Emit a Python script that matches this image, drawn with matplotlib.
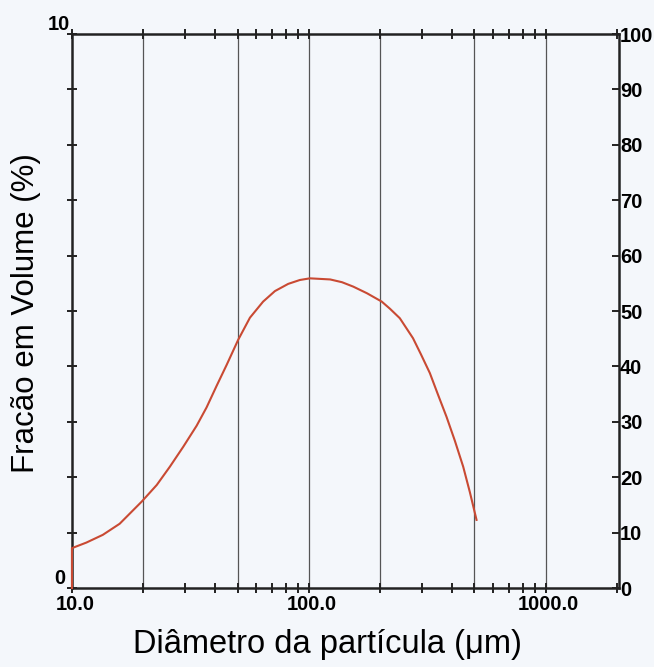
import matplotlib
matplotlib.use("Agg")
import matplotlib.pyplot as plt
from matplotlib.ticker import LogLocator, NullFormatter, FixedLocator
from matplotlib.transforms import ScaledTranslation

# Particle size distribution (volume fraction, %)
diameter_um = [10, 10, 11.5, 13.5, 15.9, 19.7, 22.8, 25.9, 29.5, 33.6, 37.0,
               40.8, 45.0, 50.3, 56.4, 64.1, 71.9, 81.8, 91.6, 101, 123, 138,
               154, 176, 203, 220, 242, 275, 297, 324, 350, 381, 413, 448,
               478, 510]
volume_pct = [0, 0.72, 0.82, 0.96, 1.16, 1.56, 1.86, 2.19, 2.55, 2.93, 3.26,
              3.65, 4.03, 4.48, 4.88, 5.17, 5.36, 5.49, 5.56, 5.59, 5.57, 5.52,
              5.44, 5.32, 5.17, 5.04, 4.87, 4.51, 4.22, 3.88, 3.50, 3.09, 2.66,
              2.19, 1.73, 1.23]

grid_x = [20, 50, 100, 200, 500, 1000]
x_tick_vals = [10, 100, 1000]
x_tick_labels = ["10.0", "100.0", "1000.0"]
right_ticks = list(range(0, 101, 10))

bg = "#f4f7fb"
font = "Liberation Sans"
tick_size = 14.5

fig = plt.figure(figsize=(6.54, 6.67), dpi=100, facecolor=bg)
ax = fig.add_axes([0.110, 0.1184, 0.836, 0.8306])
ax.set_facecolor(bg)

ax.set_xscale("log")
ax.set_xlim(10, 2030)
ax.set_ylim(0, 10)

for gx in grid_x:
    ax.axvline(gx, color="#555555", lw=0.9, zorder=1)

ax.plot(diameter_um, volume_pct, color="#c94a33", lw=1.5, zorder=3,
        clip_on=False)

for s in ax.spines.values():
    s.set_linewidth(1.8)
    s.set_color("#222222")

# x axis: minor ticks crossing both top and bottom spines
ax.xaxis.set_major_locator(FixedLocator(x_tick_vals))
ax.xaxis.set_minor_locator(LogLocator(base=10, subs=range(2, 10)))
ax.xaxis.set_minor_formatter(NullFormatter())
ax.set_xticks(x_tick_vals)
ax.set_xticklabels(x_tick_labels, fontfamily=font, fontweight="bold",
                   fontsize=tick_size)
ax.tick_params(axis="x", which="both", direction="inout", length=7,
               width=1.4, top=True, bottom=True, pad=1.5, color="#222222")
shift = ScaledTranslation(3 / 100, 0, fig.dpi_scale_trans)
for lbl in ax.get_xticklabels():
    lbl.set_transform(lbl.get_transform() + shift)

# left axis: unit ticks, labels only at ends
ax.set_yticks(range(0, 11))
ax.set_yticklabels([])
ax.tick_params(axis="y", which="both", direction="inout", length=7,
               width=1.4, left=True, color="#222222")
ax.text(-0.012, 0.0, "0", transform=ax.transAxes, ha="right", va="bottom",
        fontfamily=font, fontweight="bold", fontsize=tick_size)
ax.text(-0.003, 1.0, "10", transform=ax.transAxes, ha="right", va="bottom",
        fontfamily=font, fontweight="bold", fontsize=tick_size)

# right axis: 0-100 scale
ax2 = ax.twinx()
ax2.set_ylim(0, 100)
ax2.set_yticks(right_ticks)
ax2.set_yticklabels([str(v) for v in right_ticks], fontfamily=font,
                    fontweight="bold", fontsize=tick_size)
ax2.tick_params(axis="y", direction="in", length=5, width=1.4, pad=1,
                color="#222222")
for s in ax2.spines.values():
    s.set_visible(False)

fig.text(0.039, 0.53, "Fracão em Volume (%)", rotation=90, ha="center",
         va="center", fontfamily=font, fontsize=22.5)
fig.text(0.50, 0.033, "Diâmetro da partícula (μm)", ha="center",
         va="center", fontfamily=font, fontsize=23.5)

fig.savefig("out.png", dpi=100, facecolor=bg)
